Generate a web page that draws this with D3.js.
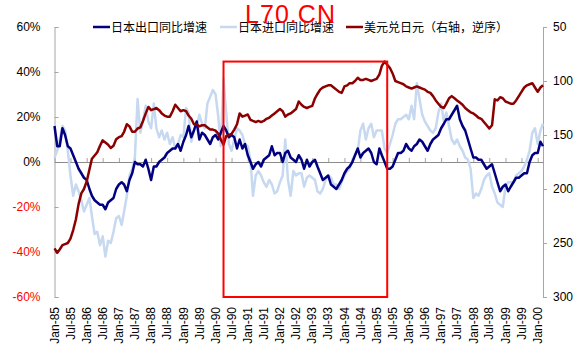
<!DOCTYPE html>
<html>
<head>
<meta charset="utf-8">
<script src="https://cdn.jsdelivr.net/npm/d3@7"></script>
<style>
body { margin: 0; background: #fff; }
text { font-family: "Liberation Sans", Arial, sans-serif; }
</style>
</head>
<body>
<script>
// monthly data, Jan-85 .. Mar-00
const startMonth = new Date(1985, 0, 1);
const endMonth = new Date(2000, 2, 1);
const months = d3.timeMonth.range(startMonth, d3.timeMonth.offset(endMonth, 1));

// 日本出口同比增速 (%)
const exportYoY = [16,7,7,15,12,7,6,3,0,-3,
  -5,-7,-8,-12,-15,-17,-18,-19,-19,-21,
  -18,-17,-16,-12,-10,-9,-10,-13,-8,-5,
  0,-1,-1,-2,1,-3,-8,-2,-2,0,
  1,2,4,5,6,6,8,5,9,12,
  16,11,14,18,10,13,12,10,8,11,
  12,10,13,16,14,11,12,11,6,10,
  6,8,3,0,-3,-1,0,-2,1,2,
  3,7,3,4,4,0,4,5,2,1,
  0,3,1,-3,1,-2,0,1,-2,-5,
  -8,-7,-6,-10,-11,-12,-10,-8,-5,-3,
  -2,0,3,6,2,4,5,6,4,0,
  -1,6,3,0,-3,-3,-2,1,4,4,
  5,8,6,5,7,8,10,9,7,5,
  8,10,11,12,15,17,19,19,21,23,
  25,19,16,14,10,6,2,2,1,1,
  -1,-3,-2,-1,-5,-9,-13,-11,-10,-13,
  -11,-9,-7,-7,-6,-5,-5,0,3,4,
  4,9,7];

// 日本进口同比增速 (%)
const importYoY = [2,5,10,16,14,5,-6,-15,-10,-13,
  -17,-22,-19,-16,-24,-32,-31,-37,-33,-42,
  -35,-36,-31,-25,-24,-28,-22,-15,-6,-3,
  2,28,13,18,25,18,15,26,15,11,
  14,10,13,8,11,6,8,12,11,24,
  22,9,14,16,21,17,15,26,29,32,
  30,20,7,37,22,8,5,10,15,14,
  12,8,7,1,-15,-6,-4,-6,-9,-11,
  -8,-10,-14,-13,-9,-6,10,-8,-15,-4,
  -6,-5,-5,-11,-7,-6,-7,-8,-13,-14,
  -12,-8,-6,-7,-10,-10,-12,-9,-6,-4,
  -3,1,3,5,14,17,10,15,17,11,
  14,14,14,6,4,8,12,17,19,19,
  20,21,19,25,19,35,28,21,18,16,
  14,13,15,22,26,18,22,16,10,8,
  10,7,5,2,1,-3,-16,-14,-15,-12,
  -8,-6,-5,-11,-14,-18,-19,-20,-11,-9,
  -9,-9,-6,-5,-4,-2,1,5,13,15,
  8,14,17];

// 美元兑日元 (右轴, 逆序)
const usdJpy = [255,259,256,252,251,250,246,238,228,214,
  204,200,193,182,172,169,166,160,155,157,
  159,162,160,154,152,151,147,140,142,147,
  147,144,143,137,130,124,127,126,125,127,
  130,132,133,133,128,122,125,128,127,128,
  132,135,140,140,142,141,141,143,145,145,
  146,149,154,159,151,150,149,145,140,130,
  133,132,131,136,137,138,137,138,137,135,
  134,132,130,128,126,128,133,131,130,128,
  126,119,122,124,125,124,123,116,112,108,
  106,105,104,104,106,108,110,111,105,104,
  102,102,100,97,99,99,98,99,100,99,
  98,94,86,82,85,88,93,100,101,102,
  103,105,106,107,106,105,106,107,108,110,
  111,114,118,121,124,125,121,116,114,116,
  118,120,122,125,127,129,130,132,134,135,
  138,141,144,141,117,118,115,116,119,120,
  121,121,118,114,110,106,104,103,102,106,
  110,106,104];

const xTickLabels = ["Jan-85","Jul-85","Jan-86","Jul-86","Jan-87","Jul-87","Jan-88","Jul-88",
  "Jan-89","Jul-89","Jan-90","Jul-90","Jan-91","Jul-91","Jan-92","Jul-92","Jan-93","Jul-93",
  "Jan-94","Jul-94","Jan-95","Jul-95","Jan-96","Jul-96","Jan-97","Jul-97","Jan-98","Jul-98",
  "Jan-99","Jul-99","Jan-00"];
const leftTicks = [-60, -40, -20, 0, 20, 40, 60];
const rightTicks = [50, 100, 150, 200, 250, 300];

const seriesNames = ["日本出口同比增速", "日本进口同比增速", "美元兑日元（右轴，逆序）"];
const seriesColors = ["#000080", "#c6d9f1", "#8b0000"];

// highlighted period (box), top at the USD/JPY low on right axis
const boxStart = new Date(1990, 3, 1);
const boxEnd = new Date(1995, 4, 1);
const boxTop = 82;

const width = 582, height = 353;
const plot = { left: 54.5, right: 543, top: 27, bottom: 297 };

const svg = d3.select("body").append("svg")
  .attr("width", width)
  .attr("height", height)
  .style("background", "#fff");

const x = d3.scaleTime().domain([startMonth, endMonth]).range([plot.left, plot.right]);
const yL = d3.scaleLinear().domain([-60, 60]).range([plot.bottom, plot.top]);
const yR = d3.scaleLinear().domain([50, 300]).range([plot.top, plot.bottom]);

const axisColor = "#a6a6a6";

// left axis
const gL = svg.append("g")
  .attr("transform", `translate(${plot.left},0)`)
  .call(d3.axisLeft(yL).tickValues(leftTicks).tickSize(-4).tickPadding(14).tickFormat(d => d + "%"));
gL.selectAll("text")
  .attr("font-size", 12)
  .attr("fill", d => d < 0 ? "#ff0000" : "#000");

// right axis
const gR = svg.append("g")
  .attr("transform", `translate(${plot.right},0)`)
  .call(d3.axisRight(yR).tickValues(rightTicks).tickSize(4).tickPadding(6));
gR.selectAll("text").attr("font-size", 12).attr("fill", "#000");

[gL, gR].forEach(g => {
  g.select(".domain").attr("stroke", axisColor);
  g.selectAll(".tick line").attr("stroke", axisColor);
  g.attr("font-family", null);
});

// category axis along zero line
const parseLabel = d3.timeParse("%b-%y");
const tickDates = xTickLabels.map(parseLabel);

const gZero = svg.append("g")
  .attr("transform", `translate(0,${yL(0)})`)
  .call(d3.axisTop(x).tickValues(tickDates).tickSize(4).tickSizeOuter(0).tickFormat(""));
gZero.select(".domain").attr("stroke", "#8c8c8c");
gZero.selectAll(".tick line").attr("stroke", axisColor);

// labels below plot
const gX = svg.append("g").attr("transform", `translate(0,${plot.bottom})`);
gX.selectAll("text")
  .data(xTickLabels)
  .join("text")
  .attr("transform", d => `translate(${x(parseLabel(d))},10) rotate(-90)`)
  .attr("text-anchor", "end")
  .attr("dy", "0.35em")
  .attr("font-size", 12)
  .attr("fill", "#000")
  .text(d => d);

// lines
const lineL = d3.line().x((d, i) => x(months[i])).y(d => yL(d));
const lineR = d3.line().x((d, i) => x(months[i])).y(d => yR(d));

svg.append("path").datum(importYoY)
  .attr("d", lineL).attr("fill", "none")
  .attr("stroke", seriesColors[1]).attr("stroke-width", 2.5).attr("stroke-linejoin", "round");
svg.append("path").datum(exportYoY)
  .attr("d", lineL).attr("fill", "none")
  .attr("stroke", seriesColors[0]).attr("stroke-width", 2.5).attr("stroke-linejoin", "round");
svg.append("path").datum(usdJpy)
  .attr("d", lineR).attr("fill", "none")
  .attr("stroke", seriesColors[2]).attr("stroke-width", 2.5).attr("stroke-linejoin", "round");

// highlight box
svg.append("rect")
  .attr("x", x(boxStart))
  .attr("y", yR(boxTop))
  .attr("width", x(boxEnd) - x(boxStart))
  .attr("height", yR(300) - yR(boxTop))
  .attr("fill", "none")
  .attr("stroke", "#ff0000")
  .attr("stroke-width", 2);

// legend
const legendX = [93, 220, 346];
const legend = svg.append("g");
seriesNames.forEach((name, i) => {
  legend.append("line")
    .attr("x1", legendX[i]).attr("x2", legendX[i] + 17)
    .attr("y1", 27).attr("y2", 27)
    .attr("stroke", seriesColors[i]).attr("stroke-width", 2.5);
  legend.append("text")
    .attr("x", legendX[i] + 18).attr("y", 31.5)
    .attr("font-size", 12)
    .style("font-family", '"Noto Sans CJK SC", sans-serif')
    .attr("fill", "#000")
    .text(name);
});

// watermark
svg.append("text")
  .attr("x", 245).attr("y", 23)
  .attr("font-size", 25)
  .attr("textLength", 90)
  .attr("fill", "#ff0000")
  .text("L70.CN");
</script>
</body>
</html>
